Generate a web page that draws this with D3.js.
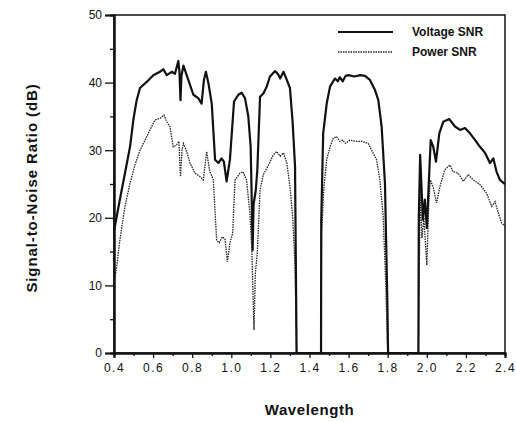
<!DOCTYPE html>
<html><head><meta charset="utf-8">
<script src="https://cdn.jsdelivr.net/npm/d3@7"></script>
<style>
body{margin:0;background:#fff;}
svg{display:block;}
text{font-family:"Liberation Sans",Arial,sans-serif;fill:#111;}
</style></head>
<body>
<script>
// ---- data ----
const voltageWl = [0.400,0.430,0.456,0.482,0.499,0.516,0.533,0.567,0.601,0.635,0.652,0.670,0.695,0.712,0.729,0.735,0.740,0.745,0.755,0.780,0.806,0.831,0.848,0.860,0.870,0.883,0.900,0.917,0.934,0.950,0.962,0.976,0.993,1.014,1.036,1.053,1.070,1.087,1.099,1.104,1.109,1.114,1.125,1.133,1.147,1.164,1.181,1.198,1.224,1.240,1.250,1.267,1.284,1.300,1.314,1.326,1.334,1.459,1.460,1.470,1.488,1.505,1.530,1.545,1.555,1.570,1.585,1.600,1.630,1.660,1.684,1.709,1.735,1.752,1.769,1.786,1.798,1.802,1.957,1.959,1.966,1.980,1.990,2.000,2.010,2.020,2.033,2.047,2.064,2.084,2.115,2.144,2.170,2.195,2.221,2.247,2.272,2.298,2.323,2.340,2.357,2.374,2.395,2.400];
const voltageSnr = [18.0,22.7,26.6,30.5,34.5,37.4,39.2,40.1,41.1,41.6,42.0,41.1,41.6,41.3,43.2,41.5,37.4,41.0,42.5,40.4,38.2,37.7,36.9,40.4,41.6,39.9,36.9,28.6,28.1,28.8,28.3,25.4,28.6,37.2,38.2,38.5,37.7,35.0,30.5,23.5,15.2,22.0,24.0,27.0,37.9,38.4,39.4,40.9,41.7,41.2,40.6,41.6,40.4,39.2,34.0,27.6,0,0,19.5,32.5,36.9,39.4,40.6,40.2,40.8,40.2,41.0,41.1,40.9,41.1,41.0,40.4,38.9,37.4,33.5,25.1,7.9,0,0,20.0,29.3,19.7,22.7,18.5,25.0,31.5,30.5,28.3,32.5,34.2,34.6,33.5,33.0,33.3,32.5,31.5,30.5,29.6,28.1,28.8,26.8,25.6,25.1,25.0];
const powerWl = [0.400,0.414,0.430,0.456,0.482,0.507,0.533,0.559,0.584,0.610,0.635,0.656,0.670,0.686,0.703,0.720,0.732,0.740,0.748,0.755,0.772,0.789,0.814,0.840,0.857,0.874,0.888,0.908,0.925,0.938,0.955,0.968,0.980,0.993,1.007,1.019,1.044,1.060,1.078,1.095,1.105,1.116,1.123,1.133,1.147,1.164,1.190,1.215,1.232,1.250,1.267,1.284,1.300,1.314,1.326,1.334,1.459,1.462,1.474,1.488,1.505,1.522,1.539,1.555,1.570,1.585,1.607,1.640,1.670,1.700,1.718,1.743,1.760,1.777,1.790,1.800,1.957,1.966,1.975,1.985,2.000,2.010,2.018,2.033,2.050,2.067,2.092,2.118,2.135,2.160,2.187,2.212,2.238,2.272,2.306,2.332,2.349,2.366,2.383,2.400];
const powerSnr = [10.3,12.8,16.7,21.7,25.1,27.8,30.0,31.5,33.0,34.5,34.7,35.2,34.2,33.5,30.5,30.8,31.3,26.1,30.0,31.0,29.8,28.1,26.6,26.1,25.6,29.8,27.1,25.6,16.7,16.3,17.2,16.8,13.5,16.3,17.7,25.6,26.6,26.8,25.6,20.7,15.3,3.4,11.8,14.8,24.1,26.4,27.8,29.3,29.8,29.1,29.6,28.1,24.6,20.2,12.8,0,0,17.7,24.6,28.6,30.5,31.8,32.0,31.3,31.5,31.0,31.5,31.3,31.3,31.0,30.0,28.6,25.6,20.2,10.3,0,0,24.1,17.0,20.0,13.0,22.0,25.6,24.5,22.2,24.6,27.1,27.8,26.8,26.6,25.4,26.4,25.6,24.9,23.6,21.7,22.4,20.7,19.2,18.8];
const xTicks = [0.4,0.6,0.8,1.0,1.2,1.4,1.6,1.8,2.0,2.2,2.4];
const xMinorTicks = [0.5,0.7,0.9,1.1,1.3,1.5,1.7,1.9,2.1,2.3];
const yTicks = [0,10,20,30,40,50];
const yMinorTicks = [5,15,25,35,45];
const seriesNames = ["Voltage SNR","Power SNR"];

// ---- layout ----
const W = 516, H = 422;
const L = 114, R = 505, T = 15, B = 353;
const svg = d3.select("body").append("svg").attr("width", W).attr("height", H);
const x = d3.scaleLinear().domain([0.4, 2.4]).range([L, R]);
const y = d3.scaleLinear().domain([0, 50]).range([B, T]);

// frame
svg.append("rect").attr("x", L).attr("y", T).attr("width", R - L).attr("height", B - T)
  .attr("fill", "none").attr("stroke", "#111").attr("stroke-width", 1.5);

// x axis
const xa = svg.append("g").attr("transform", `translate(0,${B})`)
  .call(d3.axisBottom(x).tickValues(xTicks).tickFormat(d3.format(".1f")).tickSize(5).tickPadding(5));
svg.append("g").attr("transform", `translate(0,${B})`)
  .call(d3.axisBottom(x).tickValues(xMinorTicks).tickFormat("").tickSize(3));
// y axis
const ya = svg.append("g").attr("transform", `translate(${L},0)`)
  .call(d3.axisLeft(y).tickValues(yTicks).tickSize(9).tickPadding(3));
svg.append("g").attr("transform", `translate(${L},0)`)
  .call(d3.axisLeft(y).tickValues(yMinorTicks).tickFormat("").tickSize(4));
svg.selectAll(".domain").attr("stroke", "#111").attr("stroke-width", 2);
svg.selectAll(".tick line").attr("stroke", "#111").attr("stroke-width", 1.3);
xa.selectAll("text").attr("font-size", 12).attr("letter-spacing", "1.5px").attr("fill", "#111")
  .style("font-family", "'Liberation Sans',Arial,sans-serif");
ya.selectAll("text").attr("font-size", 12).attr("fill", "#111")
  .style("font-family", "'Liberation Sans',Arial,sans-serif");

// lines
const line = d3.line().x(d => x(d[0])).y(d => y(d[1]));
const vData = voltageWl.map((w, i) => [w, voltageSnr[i]]);
const pData = powerWl.map((w, i) => [w, powerSnr[i]]);
svg.append("path").datum(pData).attr("d", line).attr("fill", "none")
  .attr("stroke", "#222").attr("stroke-width", 1.3).attr("stroke-dasharray", "1.5,1");
svg.append("path").datum(vData).attr("d", line).attr("fill", "none")
  .attr("stroke", "#111").attr("stroke-width", 2.2).attr("stroke-linejoin", "round");

// legend
const leg = svg.append("g");
leg.append("line").attr("x1", 338).attr("x2", 393).attr("y1", 32).attr("y2", 32)
  .attr("stroke", "#111").attr("stroke-width", 2.2);
leg.append("line").attr("x1", 338).attr("x2", 393).attr("y1", 52).attr("y2", 52)
  .attr("stroke", "#222").attr("stroke-width", 1.3).attr("stroke-dasharray", "1.5,1");
leg.append("text").attr("x", 412).attr("y", 36).attr("font-size", 12).attr("font-weight", "bold").text(seriesNames[0]);
leg.append("text").attr("x", 412).attr("y", 56).attr("font-size", 12).attr("font-weight", "bold").text(seriesNames[1]);

// axis titles
svg.append("text").attr("x", (L + R) / 2).attr("y", 415).attr("text-anchor", "middle")
  .attr("font-size", 15).attr("font-weight", "bold").attr("letter-spacing", "0.6px").text("Wavelength");
svg.append("text").attr("transform", `translate(37,188) rotate(-90)`).attr("text-anchor", "middle")
  .attr("font-size", 15).attr("font-weight", "bold").attr("letter-spacing", "0.9px").text("Signal-to-Noise  Ratio  (dB)");
</script>
</body></html>
